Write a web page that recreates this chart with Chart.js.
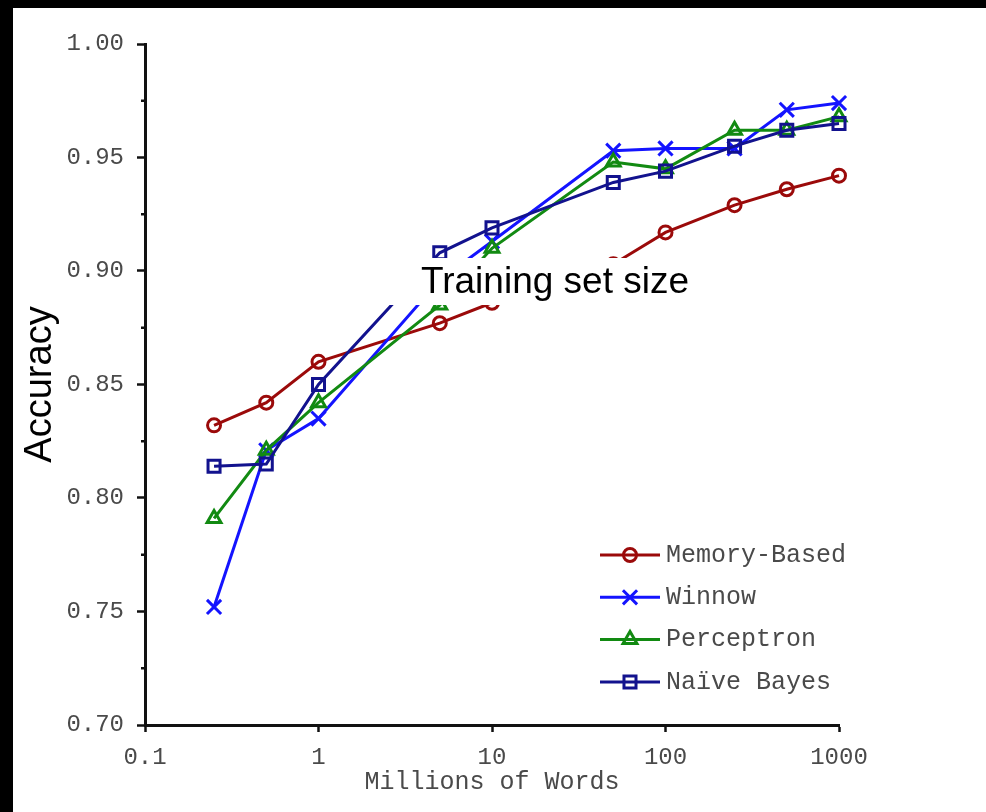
<!DOCTYPE html>
<html>
<head>
<meta charset="utf-8">
<script src="https://cdn.jsdelivr.net/npm/chart.js@4.4.1/dist/chart.umd.min.js"></script>
<style>
  html, body { margin: 0; padding: 0; background: #000; width: 986px; height: 812px; overflow: hidden; }
  #wrap { position: absolute; left: 13px; top: 8px; width: 973px; height: 804px; background: #fff; }
  canvas { display: block; }
</style>
</head>
<body>
<div id="wrap"><canvas id="c" width="973" height="804"></canvas></div>
<script>
// Training corpus size (millions of words) and accuracy of each learner
const millionsOfWords = [0.25, 0.5, 1, 5, 10, 50, 100, 250, 500, 1000];
const memoryBased = [0.832, 0.842, 0.860, 0.877, 0.886, 0.903, 0.917, 0.929, 0.936, 0.942];
const winnow      = [0.752, 0.821, 0.835, 0.896, 0.913, 0.953, 0.954, 0.954, 0.971, 0.974];
const perceptron  = [0.791, 0.821, 0.842, 0.885, 0.910, 0.948, 0.945, 0.962, 0.962, 0.968];
const naiveBayes  = [0.814, 0.815, 0.850, 0.908, 0.919, 0.939, 0.944, 0.955, 0.962, 0.965];

const seriesNames = ['Memory-Based', 'Winnow', 'Perceptron', 'Na\u00efve Bayes'];

const xTickValues = [0.1, 1, 10, 100, 1000];
const xTickLabels = ['0.1', '1', '10', '100', '1000'];
const yTickValues = [0.70, 0.75, 0.80, 0.85, 0.90, 0.95, 1.00];
const yMinorTickValues = [0.725, 0.775, 0.825, 0.875, 0.925, 0.975];

const MONO = "'Liberation Mono', 'Courier New', monospace";
const SANS = "'Liberation Sans', Arial, sans-serif";
const TEXT_GREY = '#4a4a4a';
const AXIS = '#111';

function series(label, values, color, pointStyle, radius, order) {
  return {
    label,
    data: millionsOfWords.map((x, i) => ({ x, y: values[i] })),
    borderColor: color,
    backgroundColor: 'transparent',
    borderWidth: 3,
    tension: 0,
    pointStyle,
    pointRadius: radius,
    pointHoverRadius: radius,
    pointBorderColor: color,
    pointBackgroundColor: 'transparent',
    pointBorderWidth: 3,
    clip: false,
    order
  };
}

// Short ticks between the labelled accuracy values
const minorTicks = {
  id: 'minorTicks',
  afterDraw(chart) {
    const { ctx, chartArea, scales } = chart;
    ctx.save();
    ctx.strokeStyle = AXIS;
    ctx.lineWidth = 2.5;
    yMinorTickValues.forEach(v => {
      const y = scales.y.getPixelForValue(v);
      ctx.beginPath();
      ctx.moveTo(chartArea.left - 4, y);
      ctx.lineTo(chartArea.left, y);
      ctx.stroke();
    });
    ctx.restore();
  }
};

// Boxed caption over the middle of the plot
const caption = {
  id: 'caption',
  afterDatasetsDraw(chart) {
    const { ctx } = chart;
    ctx.save();
    ctx.fillStyle = '#fff';
    ctx.fillRect(367, 250, 336, 47);
    ctx.fillStyle = '#000';
    ctx.font = '37px ' + SANS;
    ctx.textAlign = 'center';
    ctx.textBaseline = 'alphabetic';
    ctx.fillText('Training set size', 542, 285);
    ctx.restore();
  }
};

// Legend: line sample with marker, then the series name
const lineLegend = {
  id: 'lineLegend',
  afterDraw(chart) {
    const { ctx } = chart;
    const x0 = 587, x1 = 647, tx = 653, y0 = 547, dy = 42.3;
    ctx.save();
    chart.data.datasets.forEach((ds, i) => {
      const y = y0 + i * dy;
      ctx.strokeStyle = ds.borderColor;
      ctx.lineWidth = ds.borderWidth;
      ctx.beginPath();
      ctx.moveTo(x0, y);
      ctx.lineTo(x1, y);
      ctx.stroke();
      ctx.fillStyle = 'transparent';
      ctx.lineWidth = ds.pointBorderWidth;
      Chart.helpers.drawPoint(ctx, {
        pointStyle: ds.pointStyle,
        radius: ds.pointRadius,
        rotation: 0,
        borderWidth: ds.pointBorderWidth
      }, (x0 + x1) / 2, y);
      ctx.fillStyle = TEXT_GREY;
      ctx.font = '25px ' + MONO;
      ctx.textAlign = 'left';
      ctx.textBaseline = 'middle';
      ctx.fillText(ds.label, tx, y);
    });
    ctx.restore();
  }
};

new Chart(document.getElementById('c'), {
  type: 'line',
  data: {
    datasets: [
      series(seriesNames[0], memoryBased, '#9b0a0a', 'circle', 6.5, 3),
      series(seriesNames[1], winnow, '#1414ff', 'crossRot', 10, 2),
      series(seriesNames[2], perceptron, '#128a12', 'triangle', 8, 1),
      series(seriesNames[3], naiveBayes, '#12128e', 'rect', 8.5, 0)
    ]
  },
  options: {
    responsive: false,
    animation: false,
    devicePixelRatio: 1,
    layout: { padding: { top: 36, right: 147, bottom: 0, left: 0 } },
    plugins: { legend: { display: false }, tooltip: { enabled: false } },
    scales: {
      x: {
        type: 'logarithmic',
        min: 0.1,
        max: 1000,
        afterBuildTicks: s => { s.ticks = xTickValues.map(v => ({ value: v })); },
        afterFit: s => { s.height = 87; },
        ticks: {
          autoSkip: false,
          maxRotation: 0,
          padding: 11,
          color: TEXT_GREY,
          font: { family: MONO, size: 24 },
          callback: (v, i) => xTickLabels[i]
        },
        grid: { drawOnChartArea: false, drawTicks: true, tickLength: 7, tickColor: AXIS, tickWidth: 2.5 },
        border: { display: true, color: AXIS, width: 3 },
        title: {
          display: true,
          text: 'Millions of Words',
          color: TEXT_GREY,
          font: { family: MONO, size: 25 },
          padding: { top: 0, bottom: 15 }
        }
      },
      y: {
        min: 0.7,
        max: 1.0,
        afterBuildTicks: s => { s.ticks = yTickValues.map(v => ({ value: v })); },
        afterFit: s => { s.width = 132; },
        ticks: {
          autoSkip: false,
          padding: 13,
          color: TEXT_GREY,
          font: { family: MONO, size: 24 },
          callback: v => Number(v).toFixed(2)
        },
        grid: { drawOnChartArea: false, drawTicks: true, tickLength: 8, tickColor: AXIS, tickWidth: 2.5 },
        border: { display: true, color: AXIS, width: 3 },
        title: {
          display: true,
          text: 'Accuracy',
          color: '#000',
          font: { family: SANS, size: 38 },
          padding: { top: 5, bottom: 0 }
        }
      }
    }
  },
  plugins: [minorTicks, caption, lineLegend]
});
</script>
</body>
</html>
